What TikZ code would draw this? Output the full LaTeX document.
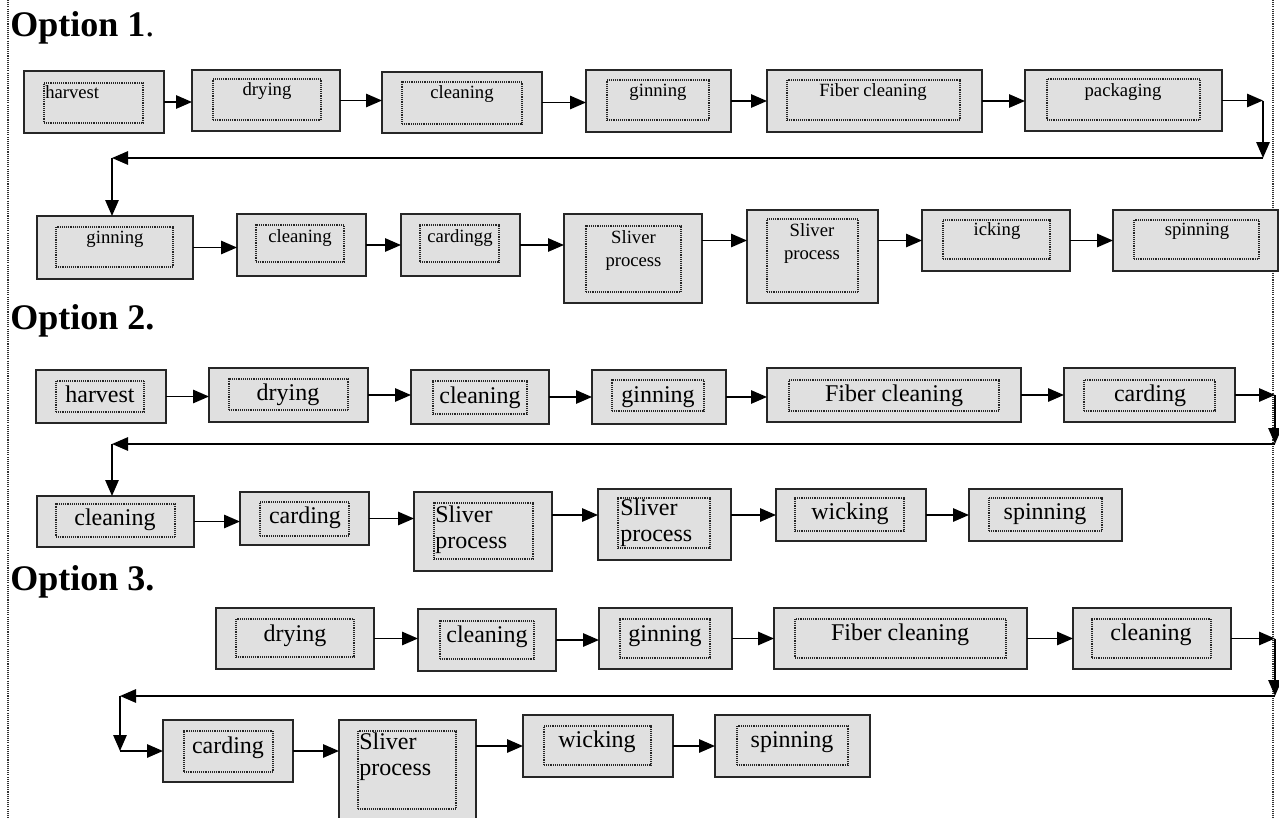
\documentclass[tikz,border=0pt]{standalone}
\usepackage{fontspec}
\setmainfont{Liberation Serif}
\usetikzlibrary{fit,arrows.meta}

\definecolor{boxgray}{HTML}{E0E0E0}

\tikzset{
  outerbox/.style={draw=black!85, fill=boxgray, line width=1.3pt, inner sep=0pt, outer sep=0pt},
  innerbox/.style={draw=black!85, line width=0.8pt, dash pattern=on 0.7pt off 0.7pt, inner sep=0pt},
  smalltxt/.style={font=\fontsize{14}{17.25}\selectfont, inner sep=0pt},
  bigtxt/.style={font=\fontsize{18}{19.5}\selectfont, inner sep=0pt},
  title/.style={font=\fontsize{27}{30}\selectfont, inner sep=0pt},
  flow/.style={-{Triangle[length=12pt,width=10pt]}, line width=1.4pt},
  frame/.style={draw=black!80, line width=0.9pt, dash pattern=on 0.8pt off 0.8pt}
}

% name, outer corners, inner corners, text, text position, text style
\newcommand{\stepbox}[8]{%
  \node[outerbox, fit={#2 #3}] (#1) {};
  \node[innerbox, fit={#4 #5}] (#1-in) {};
  \node[#8] (#1-t) at #7 {#6};
}

\begin{document}
\begin{tikzpicture}[x=0.75pt, y=-0.75pt]
\useasboundingbox (0,0) rectangle (1279,818);

% Frame
\draw[frame] (8,0) -- (8,818);
\draw[frame] (1273,0) -- (1273,818);

% Titles
\node[title, anchor=base west] (opt1) at (10,36) {\textbf{Option 1}.};
\node[title, anchor=base west] (opt2) at (10,329) {\textbf{Option 2.}};
\node[title, anchor=base west] (opt3) at (10,590) {\textbf{Option 3.}};

% Option 1, first row
\stepbox{harvA}{(24,71)}{(164,133)}{(44,83)}{(143,123)}{harvest}{(45,98)}{smalltxt, anchor=base west}
\stepbox{dryA}{(192,70)}{(340,131)}{(213,79)}{(321,120)}{drying}{(267,95)}{smalltxt, anchor=base}
\stepbox{cleanA}{(382,72)}{(542,133)}{(402,82)}{(522,124)}{cleaning}{(462,98)}{smalltxt, anchor=base}
\stepbox{ginA}{(586,70)}{(731,132)}{(607,80)}{(709,120)}{ginning}{(658,96)}{smalltxt, anchor=base}
\stepbox{fiberA}{(767,70)}{(982,132)}{(787,80)}{(960,120)}{Fiber cleaning}{(873,96)}{smalltxt, anchor=base}
\stepbox{packA}{(1025,70)}{(1222,131)}{(1047,79)}{(1200,120)}{packaging}{(1123,96)}{smalltxt, anchor=base}

% Option 1, second row
\stepbox{ginB}{(37,216)}{(193,279)}{(56,227)}{(173,267)}{ginning}{(115,243)}{smalltxt, anchor=base}
\stepbox{cleanB}{(237,214)}{(366,276)}{(256,225)}{(344,262)}{cleaning}{(300,242)}{smalltxt, anchor=base}
\stepbox{cardB}{(401,214)}{(520,276)}{(420,225)}{(499,262)}{cardingg}{(460,242)}{smalltxt, anchor=base}
\stepbox{sliverB}{(564,214)}{(702,303)}{(586,226)}{(681,292)}{Sliver\\process}{(633.5,230)}{smalltxt, anchor=north, align=center}
\stepbox{sliverBB}{(747,210)}{(878,303)}{(767,219)}{(858,292)}{Sliver\\process}{(812,223)}{smalltxt, anchor=north, align=center}
\stepbox{ickB}{(922,210)}{(1070,271)}{(943,220)}{(1050,259)}{icking}{(997,235)}{smalltxt, anchor=base}
\stepbox{spinB}{(1113,210)}{(1278,271)}{(1134,220)}{(1259,259)}{spinning}{(1197,235)}{smalltxt, anchor=base}

% Option 2, first row
\stepbox{harvC}{(36,370)}{(166,423)}{(56,381)}{(144,412)}{harvest}{(100,402)}{bigtxt, anchor=base}
\stepbox{dryC}{(209,368)}{(368,422)}{(229,379)}{(348,410)}{drying}{(288,400)}{bigtxt, anchor=base}
\stepbox{cleanC}{(411,370)}{(549,424)}{(433,381)}{(527,414)}{cleaning}{(480,403)}{bigtxt, anchor=base}
\stepbox{ginC}{(592,370)}{(726,424)}{(612,380)}{(704,411)}{ginning}{(658,402)}{bigtxt, anchor=base}
\stepbox{fiberC}{(767,368)}{(1021,422)}{(789,380)}{(999,411)}{Fiber cleaning}{(894,401)}{bigtxt, anchor=base}
\stepbox{cardC}{(1064,368)}{(1235,422)}{(1084,380)}{(1215,411)}{carding}{(1150,401)}{bigtxt, anchor=base}

% Option 2, second row
\stepbox{cleanD}{(37,496)}{(194,547)}{(56,504)}{(175,537)}{cleaning}{(115,525)}{bigtxt, anchor=base}
\stepbox{cardD}{(240,492)}{(369,545)}{(260,502)}{(349,536)}{carding}{(305,523)}{bigtxt, anchor=base}
\stepbox{sliverD}{(414,492)}{(552,571)}{(434,503)}{(533,559)}{Sliver\\process}{(435,506)}{bigtxt, anchor=north west, align=left}
\stepbox{sliverDD}{(598,489)}{(731,560)}{(618,498)}{(710,548)}{Sliver\\process}{(620,499)}{bigtxt, anchor=north west, align=left}
\stepbox{wickD}{(776,489)}{(926,541)}{(795,498)}{(904,531)}{wicking}{(850,519)}{bigtxt, anchor=base}
\stepbox{spinD}{(969,489)}{(1122,541)}{(989,498)}{(1102,531)}{spinning}{(1045,519)}{bigtxt, anchor=base}

% Option 3, first row
\stepbox{dryE}{(216,608)}{(374,669)}{(236,619)}{(354,657)}{drying}{(295,641)}{bigtxt, anchor=base}
\stepbox{cleanE}{(418,609)}{(556,671)}{(440,621)}{(534,659)}{cleaning}{(487,642)}{bigtxt, anchor=base}
\stepbox{ginE}{(599,608)}{(732,669)}{(620,619)}{(710,658)}{ginning}{(665,641)}{bigtxt, anchor=base}
\stepbox{fiberE}{(774,608)}{(1027,669)}{(795,619)}{(1006,658)}{Fiber cleaning}{(900,640)}{bigtxt, anchor=base}
\stepbox{cleanEE}{(1073,608)}{(1231,669)}{(1092,619)}{(1211,658)}{cleaning}{(1151,640)}{bigtxt, anchor=base}

% Option 3, second row
\stepbox{cardF}{(163,720)}{(293,782)}{(184,731)}{(273,772)}{carding}{(228,753)}{bigtxt, anchor=base}
\stepbox{sliverF}{(339,720)}{(476,822)}{(358,731)}{(456,809)}{Sliver\\process}{(359,733)}{bigtxt, anchor=north west, align=left}
\stepbox{wickF}{(523,715)}{(673,777)}{(544,726)}{(651,765)}{wicking}{(597,747)}{bigtxt, anchor=base}
\stepbox{spinF}{(715,715)}{(870,777)}{(737,726)}{(848,765)}{spinning}{(792,747)}{bigtxt, anchor=base}

% Turning points
\coordinate (wA1) at (1263,158);
\coordinate (wA2) at (112,158);
\coordinate (wC1) at (1275,444);
\coordinate (wC2) at (112,444);
\coordinate (wE1) at (1275,696);
\coordinate (wE2) at (120,696);

% Arrows, option 1
\draw[flow] (harvA.east) -- (harvA.east -| dryA.west);
\draw[flow] (dryA.east) -- (dryA.east -| cleanA.west);
\draw[flow] (cleanA.east) -- (cleanA.east -| ginA.west);
\draw[flow] (ginA.east) -- (ginA.east -| fiberA.west);
\draw[flow] (fiberA.east) -- (fiberA.east -| packA.west);
\draw[flow] (packA.east) -- (packA.east -| wA1);
\draw[flow] (packA.east -| wA1) -- (wA1);
\draw[flow] (wA1) -- (wA2);
\draw[flow] (wA2) -- (wA2 |- ginB.north);
\draw[flow] (ginB.east) -- (ginB.east -| cleanB.west);
\draw[flow] (cleanB.east) -- (cleanB.east -| cardB.west);
\draw[flow] (cardB.east) -- (cardB.east -| sliverB.west);
\draw[flow] (sliverB.east |- ickB) -- (sliverBB.west |- ickB);
\draw[flow] (sliverBB.east |- ickB) -- (ickB.west);
\draw[flow] (ickB.east) -- (ickB.east -| spinB.west);

% Arrows, option 2
\draw[flow] (harvC.east) -- (harvC.east -| dryC.west);
\draw[flow] (dryC.east) -- (dryC.east -| cleanC.west);
\draw[flow] (cleanC.east) -- (cleanC.east -| ginC.west);
\draw[flow] (ginC.east) -- (ginC.east -| fiberC.west);
\draw[flow] (fiberC.east) -- (fiberC.east -| cardC.west);
\draw[flow] (cardC.east) -- (cardC.east -| wC1);
\draw[flow] (cardC.east -| wC1) -- (wC1);
\draw[flow] (wC1) -- (wC2);
\draw[flow] (wC2) -- (wC2 |- cleanD.north);
\draw[flow] (cleanD.east) -- (cleanD.east -| cardD.west);
\draw[flow] (cardD.east) -- (cardD.east -| sliverD.west);
\draw[flow] (sliverD.east |- wickD) -- (sliverDD.west |- wickD);
\draw[flow] (sliverDD.east |- wickD) -- (wickD.west);
\draw[flow] (wickD.east) -- (wickD.east -| spinD.west);

% Arrows, option 3
\draw[flow] (dryE.east) -- (dryE.east -| cleanE.west);
\draw[flow] (cleanE.east) -- (cleanE.east -| ginE.west);
\draw[flow] (ginE.east) -- (ginE.east -| fiberE.west);
\draw[flow] (fiberE.east) -- (fiberE.east -| cleanEE.west);
\draw[flow] (cleanEE.east) -- (cleanEE.east -| wE1);
\draw[flow] (cleanEE.east -| wE1) -- (wE1);
\draw[flow] (wE1) -- (wE2);
\draw[flow] (wE2) -- (wE2 |- cardF);
\draw[flow] (wE2 |- cardF) -- (cardF.west);
\draw[flow] (cardF.east) -- (cardF.east -| sliverF.west);
\draw[flow] (sliverF.east |- wickF) -- (wickF.west);
\draw[flow] (wickF.east) -- (wickF.east -| spinF.west);
\end{tikzpicture}
\end{document}
